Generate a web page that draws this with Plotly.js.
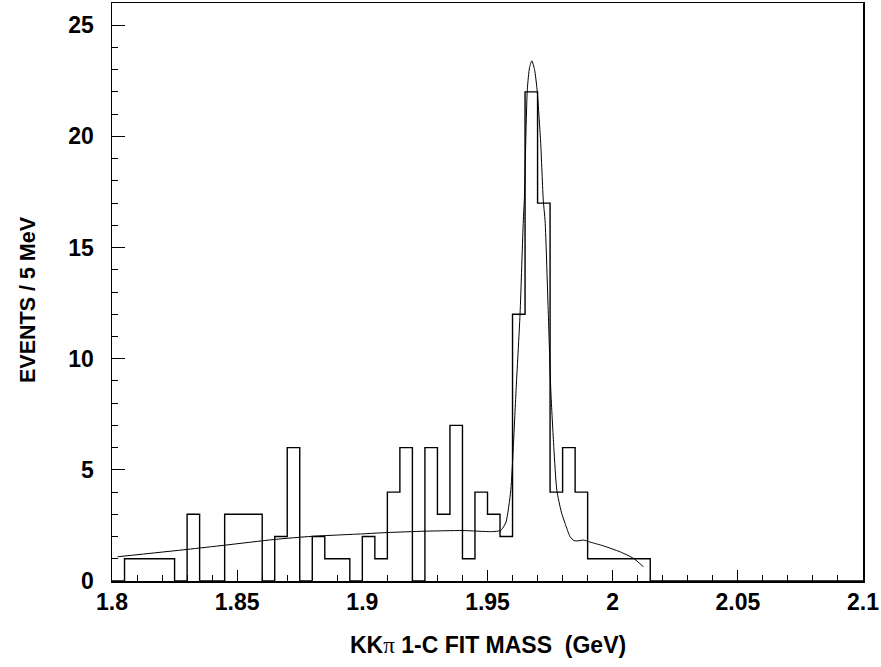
<!DOCTYPE html>
<html>
<head>
<meta charset="utf-8">
<script src="https://cdn.plot.ly/plotly-3.0.1.min.js"></script>
<style>
  html, body { margin: 0; padding: 0; background: #ffffff; }
  #chart { width: 881px; height: 667px; }
</style>
</head>
<body>
<div id="chart"></div>
<script>
// Histogram: events per 5 MeV bin, first bin starts at 1.800 GeV
const binStart = 1.800;
const binWidth = 0.005;
const counts = [
  0, 1, 1, 1, 1, 0, 3, 0, 0, 3,
  3, 3, 0, 2, 6, 0, 2, 1, 1, 0,
  2, 1, 4, 6, 0, 6, 3, 7, 1, 4,
  3, 2, 12, 22, 17, 4, 6, 4, 1, 1,
  1, 1, 1, 0, 0, 0, 0, 0, 0, 0,
  0, 0, 0, 0, 0, 0, 0, 0, 0, 0
];

// Fit curve, points
const fitMass = [
  1.8022, 1.8300, 1.8450, 1.8650, 1.8800, 1.9000, 1.9100, 1.9250, 1.9400, 1.9517,
  1.9550, 1.9557, 1.9574, 1.9593, 1.9603, 1.9614, 1.9630, 1.9643, 1.9647, 1.9659,
  1.9668, 1.9677, 1.9688, 1.9698, 1.9712, 1.9723, 1.9730, 1.9743, 1.9753, 1.9765,
  1.9777, 1.9795, 1.9810, 1.9830, 1.9845, 1.9857, 1.9883, 1.9910, 1.9963, 2.0030,
  2.0083, 2.0123
];
const fitEvents = [
  1.09, 1.42, 1.61, 1.87, 2.01, 2.12, 2.18, 2.24, 2.27, 2.22,
  2.26, 2.32, 2.65, 4.08, 6.0, 8.56, 12.0, 16.2, 17.1, 22.1,
  23.1, 23.4, 23.0, 22.1, 19.8, 17.1, 16.2, 12.0, 8.56, 6.0,
  4.08, 3.1, 2.59, 1.99, 1.82, 1.80, 1.84, 1.75, 1.58, 1.31,
  1.02, 0.64
];

const xTickVals = [1.8, 1.85, 1.9, 1.95, 2.0, 2.05, 2.1];
const xTickText = ['1.8', '1.85', '1.9', '1.95', '2', '2.05', '2.1'];
const yTickVals = [0, 5, 10, 15, 20, 25];
const yTickText = ['0', '5', '10', '15', '20', '25'];

const xTitle = "KK<span style=\"font-family:'Liberation Serif';font-weight:normal\">π</span> 1-C FIT MASS  (GeV)";
const yTitle = "EVENTS / 5 MeV";

// build step outline from the bins
const edges = [];
const stepY = [];
for (let i = 0; i < counts.length; i++) {
  edges.push(+(binStart + i * binWidth).toFixed(4));
  stepY.push(counts[i]);
}
edges.push(+(binStart + counts.length * binWidth).toFixed(4));
stepY.push(counts[counts.length - 1]);

const FONT = "'Liberation Sans', Arial, Helvetica, sans-serif";

const traces = [
  {
    type: 'scatter', mode: 'lines',
    x: edges, y: stepY,
    line: { shape: 'hv', color: '#000000', width: 1.4 },
    hoverinfo: 'skip', showlegend: false
  },
  {
    type: 'scatter', mode: 'lines',
    x: fitMass, y: fitEvents,
    line: { shape: 'spline', smoothing: 0.6, color: '#000000', width: 1 },
    hoverinfo: 'skip', showlegend: false
  }
];

const layout = {
  width: 881, height: 667,
  margin: { l: 112, r: 18, t: 3, b: 86 },
  paper_bgcolor: '#ffffff', plot_bgcolor: '#ffffff',
  showlegend: false,
  font: { family: FONT, color: '#000000' },
  xaxis: {
    range: [1.8, 2.1],
    showgrid: false, zeroline: false,
    showline: true, mirror: true, linecolor: '#000000', linewidth: 1.5,
    ticks: 'inside', ticklen: 11, tickwidth: 1, tickcolor: '#000000',
    tickmode: 'array', tickvals: xTickVals, ticktext: xTickText,
    minor: { dtick: 0.01, tick0: 1.8, ticks: 'inside', ticklen: 6, tickwidth: 1, tickcolor: '#000000', showgrid: false },
    tickfont: { family: FONT, size: 23, weight: 'bold', color: '#000000' },
    ticklabelstandoff: 0
  },
  yaxis: {
    range: [0, 26],
    showgrid: false, zeroline: false,
    showline: true, mirror: true, linecolor: '#000000', linewidth: 1.5,
    ticks: 'inside', ticklen: 13, tickwidth: 1, tickcolor: '#000000',
    tickmode: 'array', tickvals: yTickVals, ticktext: yTickText,
    minor: { dtick: 1, tick0: 0, ticks: 'inside', ticklen: 6, tickwidth: 1, tickcolor: '#000000', showgrid: false },
    tickfont: { family: FONT, size: 23, weight: 'bold', color: '#000000' },
    ticklabelstandoff: 12
  },
  annotations: [
    {
      text: xTitle, xref: 'paper', yref: 'paper', x: 0.5, y: 0,
      yshift: -64, xanchor: 'center', yanchor: 'middle', showarrow: false,
      font: { family: FONT, size: 23, weight: 'bold', color: '#000000' }
    },
    {
      text: yTitle, xref: 'paper', yref: 'paper', x: 0, y: 0.5,
      xshift: -84, yshift: -8, yanchor: 'middle', xanchor: 'center', textangle: -90, showarrow: false,
      font: { family: FONT, size: 21.5, weight: 'bold', color: '#000000' }
    }
  ]
};

Plotly.newPlot('chart', traces, layout, { displayModeBar: false, staticPlot: true });
</script>
</body>
</html>
